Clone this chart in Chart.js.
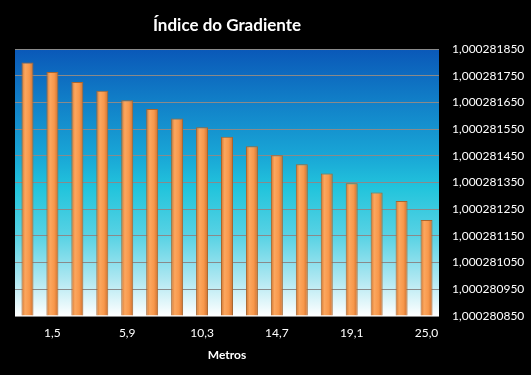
<!DOCTYPE html>
<html lang="pt">
<head>
<meta charset="UTF-8">
<title>Índice do Gradiente</title>
<script src="https://cdn.jsdelivr.net/npm/chart.js"></script>
<style>
  html, body { margin: 0; padding: 0; background: #000; }
  #wrap { width: 531px; height: 375px; }
</style>
</head>
<body>
<div id="wrap"><canvas id="chart"></canvas></div>
<script>
// distancias (metros) - eixo x
const metros = ['0,0', '1,5', '2,9', '4,4', '5,9', '7,3', '8,8', '10,3', '11,7',
                '13,2', '14,7', '16,1', '17,6', '19,1', '20,5', '22,0', '25,0'];
// indice do gradiente em cada ponto
const indice = [1.000281799, 1.000281764, 1.000281726, 1.000281694, 1.000281658,
                1.000281625, 1.000281590, 1.000281557, 1.000281521, 1.000281486,
                1.000281452, 1.000281418, 1.000281384, 1.000281347, 1.000281313,
                1.000281281, 1.000281210];
// marcas do eixo y
const yTicks = [1.000280850, 1.000280950, 1.000281050, 1.000281150, 1.000281250,
                1.000281350, 1.000281450, 1.000281550, 1.000281650, 1.000281750,
                1.000281850];

const FONT = 'Lato, "Open Sans", sans-serif';

// fundo preto + gradiente da area do grafico + titulo
const fundo = {
  id: 'fundo',
  beforeDraw(chart) {
    const { ctx, chartArea: a } = chart;
    ctx.save();
    ctx.fillStyle = '#000';
    ctx.fillRect(0, 0, chart.width, chart.height);
    const g = ctx.createLinearGradient(0, a.top, 0, a.bottom);
    g.addColorStop(0, '#0a58b8');
    g.addColorStop(0.2, '#1180c8');
    g.addColorStop(0.4, '#19a6d6');
    g.addColorStop(0.52, '#22c4dc');
    g.addColorStop(0.7, '#58d2e4');
    g.addColorStop(0.86, '#ade7f1');
    g.addColorStop(1, '#ffffff');
    ctx.fillStyle = g;
    ctx.fillRect(a.left, a.top, a.right - a.left, a.bottom - a.top);
    ctx.restore();
  },
  afterDraw(chart) {
    const { ctx, chartArea: a } = chart;
    ctx.save();
    ctx.fillStyle = '#ffffff';
    ctx.font = 'bold 17px ' + FONT;
    ctx.textAlign = 'center';
    ctx.textBaseline = 'alphabetic';
    ctx.fillText('Índice do Gradiente', (a.left + a.right) / 2, 31);
    ctx.restore();
  }
};

function corBarra(c) {
  const chart = c.chart;
  const x = chart.scales && chart.scales.x;
  if (!x || !x.width || c.dataIndex === undefined) return '#f79646';
  const cx = x.getPixelForValue(c.dataIndex);
  const w = x.width / metros.length * 0.48;
  const g = chart.ctx.createLinearGradient(cx - w / 2, 0, cx + w / 2, 0);
  g.addColorStop(0, '#cf7532');
  g.addColorStop(0.3, '#fca75e');
  g.addColorStop(0.65, '#f8984b');
  g.addColorStop(1, '#cb7030');
  return g;
}

new Chart(document.getElementById('chart'), {
  type: 'bar',
  data: {
    labels: metros,
    datasets: [{
      data: indice,
      base: yTicks[0],
      backgroundColor: corBarra,
      borderColor: '#a8662f',
      borderWidth: 1,
      categoryPercentage: 1,
      barPercentage: 0.48
    }]
  },
  plugins: [fundo],
  options: {
    responsive: true,
    maintainAspectRatio: false,
    animation: false,
    layout: { padding: { left: 15, right: 0, top: 49, bottom: 9 } },
    plugins: {
      legend: { display: false },
      title: { display: false },
      tooltip: { enabled: false }
    },
    scales: {
      x: {
        afterFit: function (s) { s.height = 50; },
        grid: { display: false, drawTicks: false },
        border: { display: false },
        ticks: {
          autoSkip: false,
          maxRotation: 0,
          padding: 10,
          color: '#ffffff',
          font: { family: FONT, size: 12 },
          callback: function (v, i) { return i % 3 === 1 ? metros[i] : ''; }
        },
        title: {
          display: true,
          text: 'Metros',
          color: '#ffffff',
          font: { family: FONT, size: 12, weight: 'bold' },
          padding: { top: 7, bottom: 4 }
        }
      },
      y: {
        position: 'right',
        min: yTicks[0],
        max: yTicks[yTicks.length - 1],
        afterBuildTicks: function (s) { s.ticks = yTicks.map(v => ({ value: v })); },
        afterFit: function (s) { s.width = 92; },
        grid: { color: '#8a8a8a', lineWidth: 1, drawTicks: false },
        border: { display: false },
        ticks: {
          padding: 13,
          color: '#ffffff',
          font: { family: FONT, size: 12 },
          callback: function (v) { return v.toFixed(9).replace('.', ','); }
        }
      }
    }
  }
});
</script>
</body>
</html>
